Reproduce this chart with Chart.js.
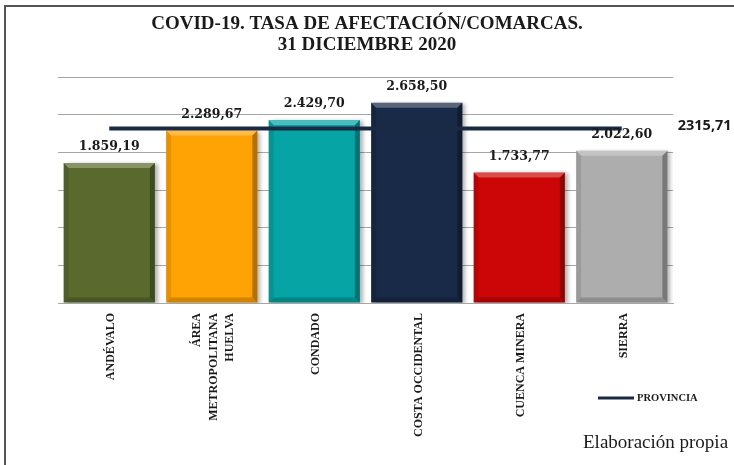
<!DOCTYPE html>
<html>
<head>
    <title>COVID-19. Tasa de afectación por comarcas</title>
    <script src="https://cdn.jsdelivr.net/npm/chart.js"></script>
    <style>
        body { margin: 0; background: #fff; }
        #wrap { width: 734px; height: 465px; position: relative; }
    </style>
</head>
<body>
    <div id="wrap"><canvas id="chart" width="734" height="465"></canvas></div>
    <script>
        // Data
        const comarcas = [['ANDÉVALO'], ['ÁREA', 'METROPOLITANA', 'HUELVA'], ['CONDADO'], ['COSTA OCCIDENTAL'], ['CUENCA MINERA'], ['SIERRA']];
        const tasas = [1859.19, 2289.67, 2429.70, 2658.50, 1733.77, 2022.60];
        const provincia = [2315.71, 2315.71, 2315.71, 2315.71, 2315.71, 2315.71];
        const colores = ['#5a6a2e', '#ffa203', '#06a4a4', '#182a47', '#cc0606', '#adadad'];
        const titulo = ['COVID-19. TASA DE AFECTACIÓN/COMARCAS.', '31 DICIEMBRE 2020'];
        const yMin = 0, yMax = 3000, yStep = 500;

        // 1859.19 -> "1.859,19"
        function fmt(v, grouping) {
            const parts = v.toFixed(2).split('.');
            let ent = parts[0];
            if (grouping) ent = ent.replace(/\B(?=(\d{3})+(?!\d))/g, '.');
            return ent + ',' + parts[1];
        }

        function poly(ctx, pts, color) {
            ctx.beginPath();
            ctx.moveTo(pts[0][0], pts[0][1]);
            for (let i = 1; i < pts.length; i++) ctx.lineTo(pts[i][0], pts[i][1]);
            ctx.closePath();
            ctx.fillStyle = color;
            ctx.fill();
        }

        const decor = {
            id: 'decor',
            beforeDatasetDraw(chart, args) {
                if (args.meta.type !== 'bar') return;
                const ctx = chart.ctx;
                ctx.save();
                ctx.shadowColor = 'rgba(0,0,0,0.3)';
                ctx.shadowBlur = 4;
                ctx.shadowOffsetX = 3;
                ctx.shadowOffsetY = 1;
            },
            afterDatasetDraw(chart, args) {
                if (args.meta.type !== 'bar') return;
                const ctx = chart.ctx;
                ctx.restore();
                // bevel look on each bar
                args.meta.data.forEach(bar => {
                    const p = bar.getProps(['x', 'y', 'base', 'width'], true);
                    const l = p.x - p.width / 2, r = p.x + p.width / 2, t = p.y, b = p.base, s = 5;
                    poly(ctx, [[l, t], [r, t], [r - s, t + s], [l + s, t + s]], 'rgba(255,255,255,0.28)');
                    poly(ctx, [[l, t], [l + s, t + s], [l + s, b - s], [l, b]], 'rgba(0,0,0,0.1)');
                    poly(ctx, [[r, t], [r, b], [r - s, b - s], [r - s, t + s]], 'rgba(0,0,0,0.3)');
                    poly(ctx, [[l, b], [r, b], [r - s, b - s], [l + s, b - s]], 'rgba(0,0,0,0.18)');
                });
            },
            afterDatasetsDraw(chart) {
                const ctx = chart.ctx;
                const xs = chart.scales.x;
                ctx.save();

                // value labels above the bars
                const barMeta = chart.getDatasetMeta(0);
                ctx.font = 'bold 12.5px "DejaVu Serif"';
                ctx.fillStyle = '#1a1a1a';
                ctx.textAlign = 'center';
                ctx.textBaseline = 'middle';
                barMeta.data.forEach((bar, i) => {
                    ctx.fillText(fmt(tasas[i], true), bar.x, bar.y - 16);
                });

                // province value at the end of the line
                const lineMeta = chart.getDatasetMeta(1);
                const last = lineMeta.data[lineMeta.data.length - 1];
                ctx.font = 'bold 14.5px "Open Sans"';
                ctx.textAlign = 'left';
                ctx.fillText(fmt(provincia[provincia.length - 1], false), last.x + 56, last.y - 3);

                // rotated category labels
                ctx.font = 'bold 12px "Liberation Serif"';
                ctx.fillStyle = '#1a1a1a';
                comarcas.forEach((lines, i) => {
                    const x = xs.getPixelForTick(i) + 2;
                    ctx.save();
                    ctx.translate(x, chart.chartArea.bottom + 10);
                    ctx.rotate(-Math.PI / 2);
                    ctx.textAlign = 'right';
                    ctx.textBaseline = 'middle';
                    lines.forEach((ln, j) => {
                        ctx.fillText(ln, 0, (j - (lines.length - 1) / 2) * 16.5);
                    });
                    ctx.restore();
                });

                // title
                ctx.font = 'bold 19px "Liberation Serif"';
                ctx.fillStyle = '#1a1a1a';
                ctx.textAlign = 'center';
                ctx.textBaseline = 'middle';
                ctx.fillText(titulo[0], 367, 24);
                ctx.fillText(titulo[1], 367, 45);

                // legend
                ctx.strokeStyle = chart.data.datasets[1].borderColor;
                ctx.lineWidth = 3;
                ctx.beginPath();
                ctx.moveTo(598, 398);
                ctx.lineTo(634, 398);
                ctx.stroke();
                ctx.font = 'bold 10.5px "Liberation Serif"';
                ctx.textAlign = 'left';
                ctx.fillStyle = '#1a1a1a';
                ctx.fillText(chart.data.datasets[1].label, 637, 398);

                // source note
                ctx.font = '19px "Liberation Serif"';
                ctx.fillText('Elaboración propia', 583, 443);

                // frame
                ctx.strokeStyle = '#555';
                ctx.lineWidth = 2;
                ctx.beginPath();
                ctx.moveTo(5, 465);
                ctx.lineTo(5, 6);
                ctx.lineTo(734, 6);
                ctx.stroke();
                ctx.restore();
            }
        };

        new Chart(document.getElementById('chart'), {
            type: 'bar',
            data: {
                labels: comarcas,
                datasets: [{
                    type: 'bar',
                    label: 'Tasa',
                    data: tasas,
                    backgroundColor: colores,
                    barPercentage: 0.89,
                    categoryPercentage: 1,
                    order: 1
                }, {
                    type: 'line',
                    label: 'PROVINCIA',
                    data: provincia,
                    borderColor: '#1b2a44',
                    borderWidth: 4,
                    pointRadius: 0,
                    fill: false,
                    order: 0
                }]
            },
            options: {
                responsive: false,
                animation: false,
                layout: { padding: { top: 77, left: 58, right: 61, bottom: 162 } },
                plugins: {
                    legend: { display: false },
                    title: { display: false },
                    tooltip: { enabled: false }
                },
                scales: {
                    x: {
                        ticks: { display: false },
                        grid: { display: false, drawTicks: false },
                        border: { display: true, color: '#a6a6a6', width: 1 }
                    },
                    y: {
                        min: yMin,
                        max: yMax,
                        ticks: { display: false, stepSize: yStep },
                        grid: { color: '#a6a6a6', lineWidth: 1, drawTicks: false },
                        border: { display: false }
                    }
                }
            },
            plugins: [decor]
        });
    </script>
</body>
</html>
